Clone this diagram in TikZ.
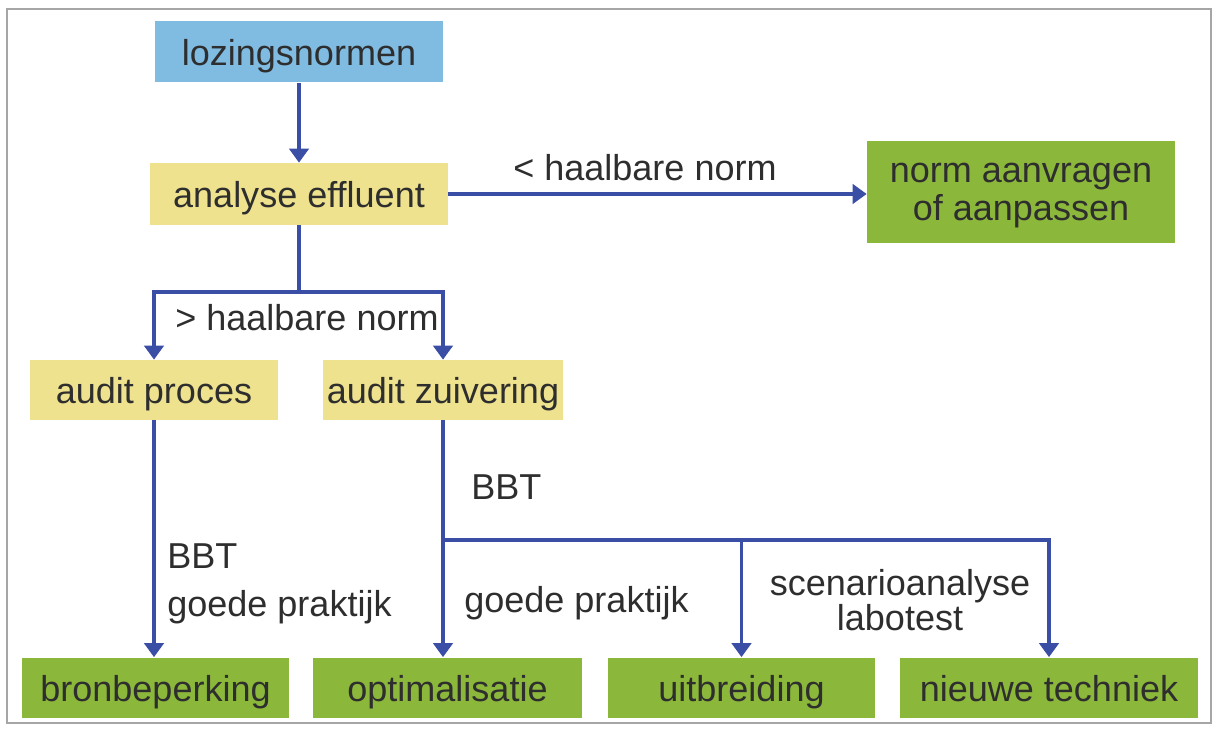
\documentclass[tikz,border=0pt]{standalone}
\usepackage{fontspec}
\setmainfont{Liberation Sans}
\usetikzlibrary{arrows.meta}
\definecolor{normblue}{HTML}{80BBE2}
\definecolor{stepyellow}{HTML}{EEE28E}
\definecolor{stepgreen}{HTML}{8BB83B}
\definecolor{linkblue}{HTML}{3B4EA6}
\definecolor{txtgray}{HTML}{2E2E2E}
\tikzset{
  box/.style={inner sep=0pt, text=txtgray, align=center, text depth=0pt,
    font=\fontsize{20.5}{21.5}\selectfont},
  link/.style={draw=linkblue, line width=2.2pt, -{Triangle[length=8pt,width=11pt]}},
  lbl/.style={inner sep=0pt, text=txtgray, font=\fontsize{20.5}{27}\selectfont}
}

\begin{document}
\begin{tikzpicture}[x=0.02cm, y=-0.02cm]
  \useasboundingbox (0,0) rectangle (1218,732);
  % frame
  \draw[gray!70, line width=0.8pt] (7,9) rectangle (1211,723);
  % top of the chart
  \node[box, fill=normblue, minimum width=5.76cm, minimum height=1.22cm] (lozing) at (299,52) {lozingsnormen};
  \node[box, fill=stepyellow, minimum width=5.96cm, minimum height=1.24cm] (analyse) at (299,194) {analyse effluent};
  \node[box, fill=stepgreen, minimum width=6.16cm, minimum height=2.06cm] (aanvragen) at (1021,192) {norm aanvragen\\of aanpassen};
  % audits
  \node[box, fill=stepyellow, minimum width=4.96cm, minimum height=1.2cm] (auditp) at (154,390) {audit proces};
  \node[box, fill=stepyellow, minimum width=4.8cm, minimum height=1.2cm] (auditz) at (443,390) {audit zuivering};
  % bottom row
  \node[box, fill=stepgreen, minimum width=5.34cm, minimum height=1.22cm] (bron) at (155.5,688) {bronbeperking};
  \node[box, fill=stepgreen, minimum width=5.38cm, minimum height=1.22cm] (optim) at (447.5,688) {optimalisatie};
  \node[box, fill=stepgreen, minimum width=5.34cm, minimum height=1.22cm] (uitbr) at (741.5,688) {uitbreiding};
  \node[box, fill=stepgreen, minimum width=5.96cm, minimum height=1.22cm] (nieuw) at (1049,688) {nieuwe techniek};
  % connectors
  \coordinate (fork) at (299,292);
  \coordinate (fork2) at (443,540);
  \draw[link] (lozing) -- (analyse);
  \draw[link] (analyse.east) -- (analyse.east -| aanvragen.west);
  \draw[link] (analyse.south) -- (fork) -| (auditp.north);
  \draw[link] (fork) -| (auditz.north);
  \draw[link] (auditp.south) -- (auditp.south |- bron.north);
  \draw[link] (auditz.south) -- (auditz.south |- optim.north);
  \draw[link] (fork2) -| (uitbr.north);
  \draw[link] (fork2) -| (nieuw.north);
  % labels
  \node[lbl] (lblkl) at (645,168) {< haalbare norm};
  \node[lbl] (lblgr) at (307,318) {> haalbare norm};
  \node[lbl, anchor=west, align=left] (lblbron) at (167,584) {BBT\\goede praktijk};
  \node[lbl, anchor=west] (lblbbt) at (471,487) {BBT};
  \node[lbl, anchor=west] (lblopt) at (464,603) {goede praktijk};
  \node[lbl, align=center, font=\fontsize{20.5}{20}\selectfont] (lblscen) at (900,600) {scenarioanalyse\\labotest};
\end{tikzpicture}
\end{document}
